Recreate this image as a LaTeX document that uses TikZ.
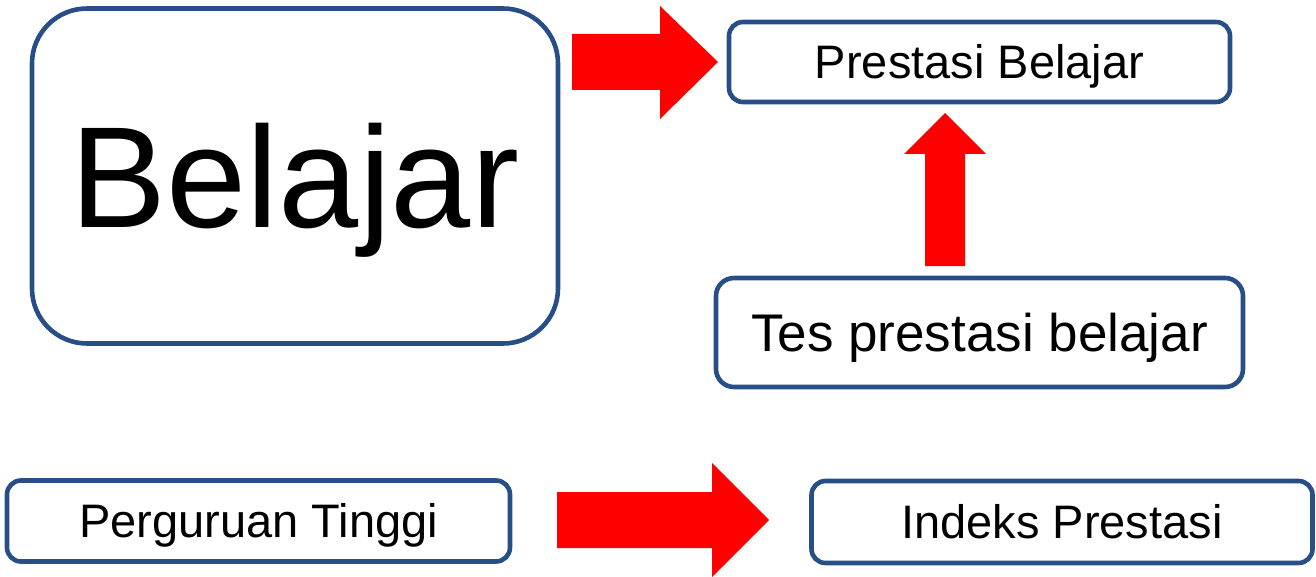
\documentclass[tikz,border=0pt]{standalone}
\usepackage{fontspec}
\setmainfont{Liberation Sans}
\definecolor{boxblue}{RGB}{40,78,135}
\definecolor{arrred}{RGB}{255,0,0}
\begin{document}
\begin{tikzpicture}[x=1pt,y=-1pt,
  box/.style={draw=boxblue, line width=4.6pt, rounded corners=#1, inner sep=0pt,
    fill=white, text=black, font=\fontsize{47}{50}\selectfont,
    text height=33.7pt, text depth=0pt},
  box/.default=14pt,
  blockarrow/.style={fill=arrred, draw=none}]
\useasboundingbox (0,0) rectangle (1316,577);
\node[box=55pt, minimum width=526pt, minimum height=335pt,
  font=\fontsize{144}{150}\selectfont, text height=103pt] (belajar) at (295,176) {Belajar};
\node[box, minimum width=501pt, minimum height=80pt] (prestasi) at (979.5,62) {Prestasi Belajar};
\node[box=18pt, minimum width=527pt, minimum height=109pt,
  font=\fontsize{53}{56}\selectfont, text height=38pt] (tes) at (979.5,332.5) {Tes prestasi belajar};
\node[box, minimum width=503pt, minimum height=81pt] (pt) at (258.5,521) {Perguruan Tinggi};
\node[box, minimum width=501pt, minimum height=82pt] (ip) at (1062,522) {Indeks Prestasi};
% block arrows
\fill[blockarrow] (572,34) -- (660,34) -- (660,6) -- (718,62) -- (660,119) -- (660,90) -- (572,90) -- cycle;
\fill[blockarrow] (925,266) -- (925,154) -- (904,154) -- (945,113) -- (986,154) -- (965,154) -- (965,266) -- cycle;
\fill[blockarrow] (557,492) -- (712,492) -- (712,463) -- (769,520) -- (712,577) -- (712,548) -- (557,548) -- cycle;
\end{tikzpicture}
\end{document}
